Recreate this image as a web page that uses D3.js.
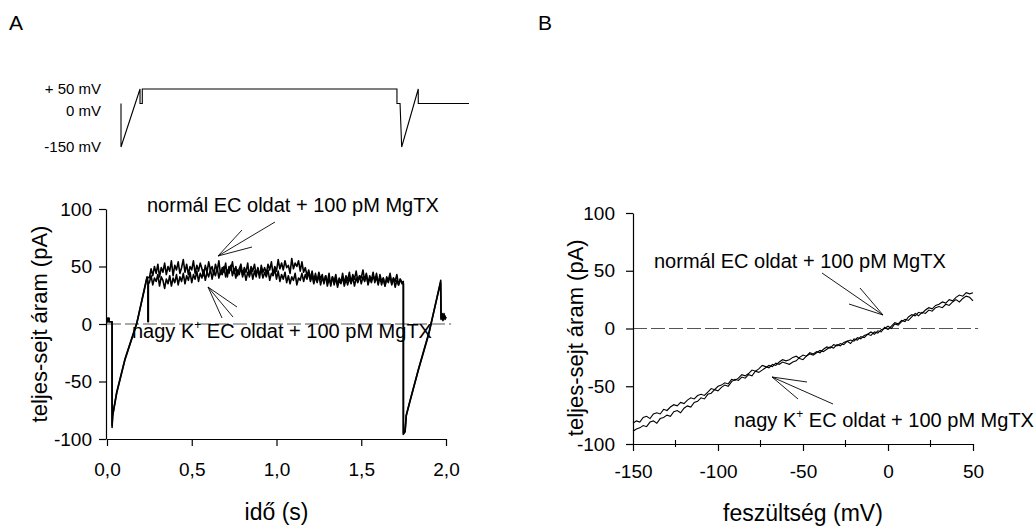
<!DOCTYPE html>
<html>
<head>
<meta charset="utf-8">
<script src="https://cdn.jsdelivr.net/npm/d3@7"></script>
<style>
  body { margin: 0; background: #fff; }
  svg { font-family: "Liberation Sans", Arial, sans-serif; }
</style>
</head>
<body>
<svg id="chart" width="1035" height="526"></svg>
<script>
// Voltage protocol (schematic): time (s) and voltage (mV)
const protoT = [0, 0, 0.117, 0.117, 0.131, 0.131, 1.697, 1.697, 1.716, 1.726, 1.828, 1.828, 2.14];
const protoV = [0, -150, 50, 0, 0, 50, 50, 0, 0, -150, 50, 0, 0];
const protoLabels = [{v: 50, text: "+ 50 mV"}, {v: 0, text: "0 mV"}, {v: -150, text: "-150 mV"}];

// Panel A: start of sweep (ramp), [t (s), I (pA)]
const leadNormal = [[0, 2], [0.004, 2], [0.004, 5], [0.012, 5], [0.012, 2], [0.03, 2], [0.03, -90],
  [0.033, -80], [0.057, -60], [0.106, -31], [0.175, 0], [0.236, 41]];
const leadHighK = [[0, 2], [0.004, 2], [0.004, 5], [0.012, 5], [0.012, 2], [0.03, 2], [0.03, -88],
  [0.034, -79], [0.058, -59], [0.107, -30], [0.176, 1], [0.236, 40], [0.241, 38], [0.241, 2], [0.244, 2], [0.244, 35]];
// +50 mV plateau, one value every 10 ms from 0.25 s
const plateauNormal = [
  40, 48, 42, 50, 44, 52, 41, 49, 45,
  53, 43, 50, 46, 55, 42, 51, 47, 54, 44,
  49, 56, 45, 52, 43, 50, 47, 55, 44, 51,
  46, 53, 48, 42, 51, 45, 54, 47, 50, 43,
  52, 46, 55, 43, 49, 45, 53, 41, 50, 47,
  54, 44, 50, 42, 48, 52, 43, 49, 45, 53,
  41, 50, 46, 52, 43, 48, 40, 51, 45, 49,
  44, 52, 47, 54, 43, 50, 46, 56, 48, 53,
  47, 55, 49, 51, 44, 57, 48, 53, 50, 55,
  46, 54, 45, 49, 42, 47, 39, 46, 38, 44,
  37, 45, 39, 43, 35, 42, 36, 44, 33, 41,
  37, 43, 34, 40, 36, 44, 35, 42, 38, 45,
  36, 43, 39, 46, 37, 42, 40, 47, 38, 44,
  35, 42, 38, 45, 36, 41, 34, 43, 37, 40,
  33, 41, 38, 44, 35, 40, 37, 43, 34, 39, 36];
const plateauHighK = [
  36, 42, 34, 40, 37, 43, 33, 41, 38,
  31, 39, 35, 42, 33, 40, 36, 43, 34, 41,
  37, 44, 35, 42, 38, 45, 36, 43, 39, 46,
  37, 44, 40, 47, 38, 45, 41, 48, 39, 46,
  42, 49, 40, 46, 43, 50, 41, 47, 44, 51,
  42, 48, 40, 47, 43, 49, 41, 46, 38, 45,
  42, 48, 39, 46, 41, 49, 43, 47, 40, 45,
  41, 47, 38, 44, 42, 48, 39, 46, 37, 43,
  39, 45, 36, 42, 35, 41, 38, 44, 34, 40,
  38, 44, 37, 43, 39, 45, 37, 42, 35, 41,
  36, 43, 34, 40, 37, 42, 33, 39, 35, 41,
  34, 40, 32, 38, 35, 41, 33, 39, 34, 40,
  35, 41, 33, 40, 36, 42, 35, 41, 37, 43,
  34, 40, 36, 42, 38, 44, 35, 41, 34, 40,
  33, 39, 36, 42, 34, 40, 32, 38, 34, 39, 35];
const plateauStart = 0.25, plateauStep = 0.01;
// end of sweep: step to -150 mV and second ramp
const tailNormal = [[1.748, 37], [1.748, -96], [1.758, -94], [1.765, -80], [1.788, -67], [1.837, -40],
  [1.9, -8], [1.969, 38], [1.971, 4], [1.977, 8], [1.982, 3], [1.988, 9], [1.994, 4], [2.0, 6]];
const tailHighK = [[1.749, 35], [1.749, -95], [1.759, -93], [1.766, -79], [1.789, -66], [1.838, -39],
  [1.9, -7], [1.968, 36], [1.971, 5], [1.978, 9], [1.984, 4], [1.99, 8], [2.0, 5]];
const xTicksA = [0, 0.5, 1, 1.5, 2];
const yTicks = [-100, -50, 0, 50, 100];

// Panel B: I-V curves, one value every 2 mV from -150 mV
const ivHighK = [
  -82, -80, -81, -77, -76, -78, -74, -73, -74, -70,
  -71, -68, -66, -67, -64, -65, -62, -60, -61, -58,
  -57, -58, -55, -52, -53, -50, -49, -47, -48, -44,
  -45, -43, -40, -41, -39, -36, -37, -35, -32, -33,
  -34, -31, -32, -29, -27, -28, -27, -25, -24, -26,
  -27, -24, -21, -22, -20, -21, -18, -16, -17, -14,
  -15, -13, -14, -11, -10, -11, -8, -9, -6, -5,
  -6, -3, -4, -1, 0, 2, 0, 4, 3, 6,
  8, 7, 10, 13, 11, 14, 13, 16, 15, 18,
  19, 18, 21, 20, 23, 25, 23, 26, 28, 27, 24];
const ivNormal = [
  -89, -87, -86, -84, -85, -81, -80, -82, -78, -77,
  -75, -76, -72, -71, -73, -69, -67, -68, -64, -63,
  -60, -61, -57, -56, -53, -54, -51, -49, -50, -46,
  -44, -45, -42, -43, -40, -41, -37, -38, -36, -34,
  -32, -33, -30, -31, -29, -30, -31, -29, -28, -25,
  -23, -24, -22, -23, -21, -19, -20, -18, -16, -17,
  -14, -15, -12, -11, -13, -9, -10, -7, -8, -5,
  -3, -5, -2, -3, 1, -1, 2, 5, 4, 7,
  6, 10, 12, 11, 14, 13, 16, 18, 17, 20,
  21, 23, 22, 25, 24, 27, 29, 28, 31, 30, 31];
const ivStart = -150, ivStep = 2;
const xTicksB = [-150, -100, -50, 0, 50];
const xMinorB = [-125, -75, -25, 25];

const svg = d3.select("#chart");
const black = "#000";

//////////////////////
//  Voltage protocol
//////////////////////
const xP = d3.scaleLinear().domain([0, 2.14]).range([121, 469]);
const yP = d3.scaleLinear().domain([-150, 50]).range([147, 89]);

svg.append("path")
  .datum(protoT.map((t, i) => [t, protoV[i]]))
  .attr("fill", "none").attr("stroke", black).attr("stroke-width", 1.1)
  .attr("d", d3.line().x(d => xP(d[0])).y(d => yP(d[1])));

svg.selectAll(".plab").data(protoLabels).enter().append("text")
  .attr("x", 101)
  .attr("y", d => yP(d.v) + (d.v === 0 ? 12 : 5))
  .attr("text-anchor", "end").attr("font-size", 15)
  .text(d => d.text);

//////////////////////
//  Panel A
//////////////////////
const xA = d3.scaleLinear().domain([0, 2]).range([107, 446]);
const yA = d3.scaleLinear().domain([-100, 100]).range([439, 209]);

function sweep(lead, plateau, tail) {
  return lead.concat(plateau.map((v, i) => [plateauStart + i * plateauStep, v])).concat(tail);
}
const lineA = d3.line().x(d => xA(d[0])).y(d => yA(d[1]));

svg.append("line")
  .attr("x1", xA(0)).attr("x2", xA(2.03)).attr("y1", yA(0)).attr("y2", yA(0))
  .attr("stroke", "#555").attr("stroke-width", 1.2).attr("stroke-dasharray", "14,4");

[sweep(leadHighK, plateauHighK, tailHighK), sweep(leadNormal, plateauNormal, tailNormal)].forEach(d => {
  svg.append("path").datum(d)
    .attr("fill", "none").attr("stroke", black).attr("stroke-width", 1.6)
    .attr("stroke-linejoin", "round")
    .attr("d", lineA);
});

const fmtComma = d => d3.format(".1f")(d).replace(".", ",");
const fmtInt = d => String(d);

const axA_x = svg.append("g").attr("transform", `translate(0,${yA(-100)})`)
  .call(d3.axisBottom(xA).tickValues(xTicksA).tickFormat(fmtComma).tickSizeInner(7).tickSizeOuter(0).tickPadding(17));
const axA_y = svg.append("g").attr("transform", `translate(${xA(0) - 1},0)`)
  .call(d3.axisLeft(yA).tickValues(yTicks).tickFormat(fmtInt).tickSizeInner(7).tickSizeOuter(0).tickPadding(7));

//////////////////////
//  Panel B
//////////////////////
const xB = d3.scaleLinear().domain([-150, 50]).range([633, 973]);
const yB = d3.scaleLinear().domain([-100, 100]).range([444, 213]);
const lineB = d3.line().x(d => xB(d[0])).y(d => yB(d[1]));

svg.append("line")
  .attr("x1", xB(-150)).attr("x2", xB(53)).attr("y1", yB(0)).attr("y2", yB(0))
  .attr("stroke", "#555").attr("stroke-width", 1.2).attr("stroke-dasharray", "14,4");

[ivHighK, ivNormal].forEach(arr => {
  svg.append("path").datum(arr.map((v, i) => [ivStart + i * ivStep, v]))
    .attr("fill", "none").attr("stroke", black).attr("stroke-width", 1.1)
    .attr("d", lineB);
});

const axB_x = svg.append("g").attr("transform", `translate(0,${yB(-100)})`)
  .call(d3.axisBottom(xB).tickValues(xTicksB).tickFormat(fmtInt).tickSizeInner(7).tickSizeOuter(0).tickPadding(14));
const axB_y = svg.append("g").attr("transform", `translate(${xB(-150)},0)`)
  .call(d3.axisLeft(yB).tickValues(yTicks).tickFormat(fmtInt).tickSizeInner(7).tickSizeOuter(0).tickPadding(11));

svg.selectAll(".minorB").data(xMinorB).enter().append("line")
  .attr("x1", d => xB(d)).attr("x2", d => xB(d))
  .attr("y1", yB(-100) - 4).attr("y2", yB(-100) + 3)
  .attr("stroke", black).attr("stroke-width", 1.1);

[axA_x, axA_y, axB_x, axB_y].forEach(g => {
  g.selectAll("path, line").attr("stroke", black).attr("stroke-width", 1.2);
  g.selectAll("text").attr("font-size", 19).attr("fill", black)
    .attr("font-family", "'Liberation Sans', Arial, sans-serif");
});

//////////////////////
//  Titles & labels
//////////////////////
svg.append("text").attr("x", 9).attr("y", 30).attr("font-size", 21).text("A");
svg.append("text").attr("x", 538).attr("y", 30).attr("font-size", 21).text("B");

svg.append("text").attr("x", xA(1)).attr("y", 520).attr("text-anchor", "middle")
  .attr("font-size", 23).text("idő (s)");
svg.append("text").attr("x", xB(-50)).attr("y", 521).attr("text-anchor", "middle")
  .attr("font-size", 23).text("feszültség (mV)");

svg.append("text").attr("transform", `translate(47,${yA(0)}) rotate(-90)`)
  .attr("text-anchor", "middle").attr("font-size", 22).text("teljes-sejt áram (pA)");
svg.append("text").attr("transform", `translate(583,${yB(-8)}) rotate(-90)`)
  .attr("text-anchor", "middle").attr("font-size", 22).text("teljes-sejt áram (pA)");

function normalLabel(x, y) {
  svg.append("text").attr("x", x).attr("y", y).attr("font-size", 20)
    .text("normál EC oldat + 100 pM MgTX");
}
function highKLabel(x, y) {
  const t = svg.append("text").attr("x", x).attr("y", y).attr("font-size", 20);
  t.append("tspan").text("nagy K");
  t.append("tspan").attr("font-size", 12).attr("dy", -9).text("+");
  t.append("tspan").attr("dy", 9).text(" EC oldat + 100 pM MgTX");
}
function arrows(tip, ends) {
  ends.forEach(e => {
    svg.append("line").attr("x1", tip[0]).attr("y1", tip[1]).attr("x2", e[0]).attr("y2", e[1])
      .attr("stroke", black).attr("stroke-width", 0.9);
  });
}

normalLabel(147, 212);
arrows([218, 256], [[275, 222], [242, 230], [252, 247]]);
highKLabel(132, 338);
arrows([208, 287], [[237, 307], [233, 317], [222, 318]]);

normalLabel(654, 268);
arrows([883, 315], [[822, 273], [860, 288], [849, 304]]);
highKLabel(734, 427);
arrows([772, 377], [[807, 382], [798, 399], [833, 404]]);
</script>
</body>
</html>
